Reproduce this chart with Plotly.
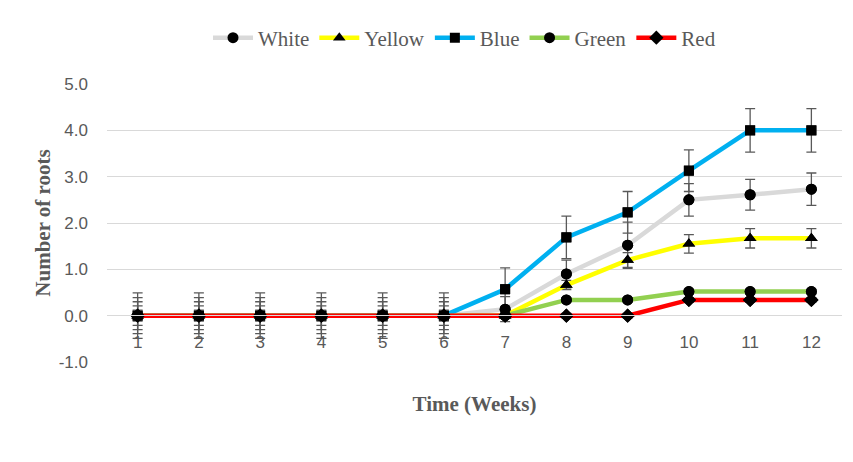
import plotly.graph_objects as go

weeks = [1, 2, 3, 4, 5, 6, 7, 8, 9, 10, 11, 12]
week_labels = ["1", "2", "3", "4", "5", "6", "7", "8", "9", "10", "11", "12"]

white = [0, 0, 0, 0, 0, 0, 0.14, 0.90, 1.52, 2.50, 2.61, 2.73]
yellow = [0, 0, 0, 0, 0, 0, 0, 0.66, 1.20, 1.55, 1.67, 1.67]
blue = [0, 0, 0, 0, 0, 0, 0.57, 1.69, 2.23, 3.13, 4.00, 4.00]
green = [0, 0, 0, 0, 0, 0, 0, 0.34, 0.34, 0.52, 0.52, 0.52]
red = [0, 0, 0, 0, 0, 0, 0, 0, 0, 0.34, 0.34, 0.34]

white_err = [0.49, 0.49, 0.49, 0.49, 0.49, 0.49, 0.27, 0.30, 0.50, 0.35, 0.33, 0.35]
yellow_err = [0.39, 0.39, 0.39, 0.39, 0.39, 0.39, 0.05, 0.10, 0.16, 0.20, 0.21, 0.21]
blue_err = [0.30, 0.30, 0.30, 0.30, 0.30, 0.30, 0.46, 0.46, 0.45, 0.45, 0.47, 0.47]
green_err = [0.21, 0.21, 0.21, 0.21, 0.21, 0.21, 0.05, 0.05, 0.05, 0.05, 0.05, 0.05]
red_err = [0.12, 0.12, 0.12, 0.12, 0.12, 0.12, 0.05, 0.05, 0.05, 0.05, 0.05, 0.05]

series = [
    ("White", white, white_err, "#D9D9D9", "circle", 11),
    ("Yellow", yellow, yellow_err, "#FFFF00", "triangle-up", 11),
    ("Blue", blue, blue_err, "#00B0F0", "square", 10),
    ("Green", green, green_err, "#92D050", "circle", 11),
    ("Red", red, red_err, "#FF0000", "diamond", 11),
]

fig = go.Figure()
for name, vals, errs, color, sym, size in series:
    fig.add_trace(go.Scatter(
        x=weeks, y=vals, name=name, mode="lines+markers",
        line=dict(color=color, width=4.5),
        marker=dict(symbol=sym, size=size, color="black"),
        error_y=dict(type="data", array=errs, visible=True,
                     color="#595959", thickness=1.3, width=5),
    ))
# markers drawn on top of all lines
for name, vals, errs, color, sym, size in series:
    fig.add_trace(go.Scatter(
        x=weeks, y=vals, mode="markers", showlegend=False, hoverinfo="skip",
        marker=dict(symbol=sym, size=size, color="black"),
    ))

# page offset of the figure (default body margin)
OFF = 8
PL, PR, PT, PB = 107 - OFF, 842 - OFF, 83 - OFF, 362 - OFF
W, H = 853 - OFF, 462 - OFF
pw, ph = PR - PL, PB - PT

zero_pos = (PB - (315 - OFF)) / ph

fig.update_layout(
    width=W, height=H,
    margin=dict(l=PL, r=W - PR, t=PT, b=H - PB),
    paper_bgcolor="white", plot_bgcolor="white",
    font=dict(family="Liberation Sans", color="#595959"),
    legend=dict(orientation="h", x=0.5 - 10 / pw, xanchor="center",
                y=1 + (PT - (38 - OFF)) / ph, yanchor="middle",
                font=dict(family="Liberation Serif", size=21, color="#595959"),
                itemwidth=40, traceorder="normal", tracegroupgap=0),
    xaxis=dict(range=[0.5, 12.5], tickvals=weeks, ticktext=week_labels,
               showgrid=False, zeroline=False, showline=True,
               linecolor="#D9D9D9", linewidth=1,
               anchor="free", position=zero_pos, ticks="",
               ticklabelstandoff=11,
               tickfont=dict(size=17, color="#595959"),
               title=dict(text="<b>Time (Weeks)</b>", standoff=45,
                          font=dict(family="Liberation Serif", size=21, color="#595959"))),
    yaxis=dict(range=[-1.001, 5.001], tickvals=[-1, 0, 1, 2, 3, 4, 5],
               ticktext=["-1.0", "0.0", "1.0", "2.0", "3.0", "4.0", "5.0"],
               showgrid=True, gridcolor="#D9D9D9", gridwidth=1,
               zeroline=False, showline=False, ticks="",
               ticklabelstandoff=18,
               tickfont=dict(size=17, color="#595959"),
               title=dict(text="<b>Number of roots</b>", standoff=2,
                          font=dict(family="Liberation Serif", size=21, color="#595959"))),
)

fig.write_html("out.html")
